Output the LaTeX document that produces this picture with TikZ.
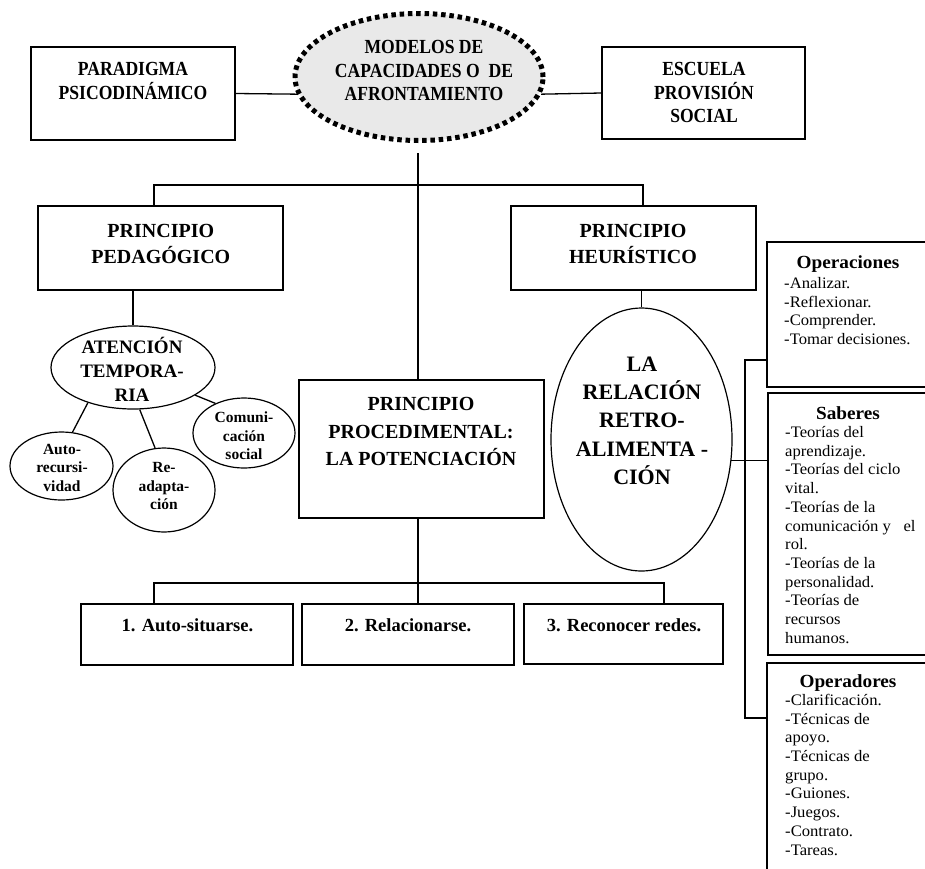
\documentclass[tikz,border=0pt]{standalone}
\usepackage{fontspec}
\setmainfont{Liberation Serif}
\newfontfamily\narrowserif[FakeStretch=0.88]{Liberation Serif}
\newfontfamily\wideserif[FakeStretch=1.04]{Liberation Serif}
\usetikzlibrary{shapes.geometric}

\newcommand{\toptext}{\narrowserif\bfseries\fontsize{20}{23.4}\selectfont}
\newcommand{\mainbox}[1]{\bfseries\fontsize{20}{#1}\selectfont}
\newcommand{\ovaltext}{\bfseries\fontsize{15.5}{18.5}\selectfont}
\newcommand{\steptext}{\bfseries\fontsize{18.5}{22}\selectfont}
\newcommand{\sidetitle}{\wideserif\bfseries\fontsize{18.5}{22}\selectfont}
\newcommand{\sideitem}{\wideserif\fontsize{16}{18.7}\selectfont}

\begin{document}
\begin{tikzpicture}[x=1pt,y=-1pt,
  frame/.style={draw, line width=1.5pt, rectangle, inner sep=0pt},
  oval/.style={draw, line width=1.2pt, ellipse, inner sep=0pt},
  dotoval/.style={draw, ellipse, inner sep=0pt, fill=gray!17,
    line width=5pt, dash pattern=on 4.5pt off 3.8pt},
  link/.style={line width=1.3pt},
  % multi-line texts are placed by the baseline of their last line
  caption/.style={inner sep=0pt, align=center, anchor=base},
  listing/.style={inner sep=0pt, align=left, anchor=base west, font=\sideitem},
]
\useasboundingbox (0,0) rectangle (925,868);

% ---------- shapes ----------
\node[frame, minimum width=204pt, minimum height=93pt] (par) at (133,93.5) {};
\node[dotoval, minimum width=248pt, minimum height=127pt] (mod) at (419,77) {};
\node[frame, minimum width=203pt, minimum height=92pt] (esc) at (703.5,93) {};

\node[frame, minimum width=245pt, minimum height=84pt] (ped) at (160.5,248) {};
\node[frame, minimum width=245pt, minimum height=84pt] (heu) at (633.5,248) {};
\node[frame, minimum width=245pt, minimum height=138pt] (pro) at (421.5,449) {};

\node[oval, minimum width=164pt, minimum height=83pt] (aten) at (133,367.5) {};
\node[oval, minimum width=103pt, minimum height=68pt] (auto) at (61.5,466) {};
\node[oval, minimum width=102pt, minimum height=84pt] (read) at (164,490) {};
\node[oval, minimum width=102pt, minimum height=70pt] (comu) at (244,433) {};
\node[oval, minimum width=181pt, minimum height=263pt] (rel) at (641.5,439.5) {};

\node[frame, minimum width=212pt, minimum height=61pt] (s1) at (187,634.5) {};
\node[frame, minimum width=212pt, minimum height=61pt] (s2) at (408,634.5) {};
\node[frame, minimum width=199pt, minimum height=60pt] (s3) at (623.5,634) {};

\node[frame, minimum width=173pt, minimum height=145pt] (ops) at (853.5,314.5) {};
\node[frame, minimum width=172pt, minimum height=262pt] (sab) at (854,524) {};
\node[frame, minimum width=173pt, minimum height=227pt] (opd) at (853.5,776.5) {};

% ---------- texts ----------
\node[caption, font=\toptext] (tpar) at (133,99) {PARADIGMA\\PSICODINÁMICO};
\node[caption, font=\toptext] (tmod) at (424,100.6) {MODELOS DE\\CAPACIDADES O\ \ DE\\AFRONTAMIENTO};
\node[caption, font=\toptext] (tesc) at (704,122.4) {ESCUELA\\PROVISIÓN\\SOCIAL};

\node[caption, font=\mainbox{26}] (tped) at (160.8,263.4) {PRINCIPIO\\PEDAGÓGICO};
\node[caption, font=\mainbox{26}] (theu) at (633,263.4) {PRINCIPIO\\HEURÍSTICO};
\node[caption, font=\mainbox{27.5}] (tpro) at (421,465.6) {PRINCIPIO\\PROCEDIMENTAL:\\LA POTENCIACIÓN};

\node[caption, font=\bfseries\fontsize{19}{23.8}\selectfont] (taten) at (132,401.2) {ATENCIÓN\\TEMPORA-\\RIA};
\node[caption, font=\ovaltext] (tauto) at (62,491) {Auto-\\recursi-\\vidad};
\node[caption, font=\ovaltext] (tread) at (164,509.7) {Re-\\adapta-\\ción};
\node[caption, font=\ovaltext] (tcomu) at (244,459.7) {Comuni-\\cación\\social};
\node[caption, font=\bfseries\fontsize{22}{28.45}\selectfont] (trel) at (642,484.8) {LA\\RELACIÓN\\RETRO-\\ALIMENTA -\\CIÓN};

\node[caption, font=\steptext] (ts1) at (187.5,631.7) {1. Auto-situarse.};
\node[caption, font=\steptext] (ts2) at (408,631.7) {2. Relacionarse.};
\node[caption, font=\steptext] (ts3) at (624,631) {3. Reconocer redes.};

\node[caption, font=\sidetitle] (tops) at (848,268.5) {Operaciones};
\node[listing] (lops) at (784,344.4) {-Analizar.\\-Reflexionar.\\-Comprender.\\-Tomar decisiones.};
\node[caption, font=\sidetitle] (tsab) at (848,419) {Saberes};
\node[listing] (lsab) at (785,643.2) {-Teorías del\\aprendizaje.\\-Teorías del ciclo\\vital.\\-Teorías de la\\comunicación y\ \ \ el\\rol.\\-Teorías de la\\personalidad.\\-Teorías de\\recursos\\humanos.};
\node[caption, font=\sidetitle] (topd) at (848,687.5) {Operadores};
\node[listing] (lopd) at (785,855) {-Clarificación.\\-Técnicas de\\apoyo.\\-Técnicas de\\grupo.\\-Guiones.\\-Juegos.\\-Contrato.\\-Tareas.};

% ---------- connectors ----------
\coordinate (bl) at (154,185);
\coordinate (br) at (643,185);
\coordinate (spine) at (418,0);
\coordinate (sl) at (154,583);
\coordinate (sr) at (664,583);
\coordinate (brtop) at (745,360);
\coordinate (brbot) at (745,718);

\draw[link] (par.east) -- (mod.188);
\draw[link] (mod.-8) -- (esc.west);
\draw[link] ([yshift=-10pt]mod.south -| spine) -- (pro.north -| spine);
\draw[link] (ped.north -| bl) -- (bl) -- (br) -- (heu.north -| br);

\draw[link] (ped.south -| aten.north) -- (aten.north);
\draw[link] (aten.218) -- (auto.72);
\draw[link] (aten.279) -- (read.102);
\draw[link] (aten.336) -- (comu.134);

\draw[link] (heu.south -| rel.north) -- (rel.north);
\draw[link] (pro.south -| spine) -- (s2.north -| spine);
\draw[link] (s1.north -| sl) -- (sl) -- (sr) -- (s3.north -| sr);

\draw[link] (rel.-13.5) -- (rel.-13.5 -| sab.west);
\draw[link] (brtop -| ops.west) -- (brtop) -- (brbot) -- (brbot -| opd.west);
\end{tikzpicture}
\end{document}
